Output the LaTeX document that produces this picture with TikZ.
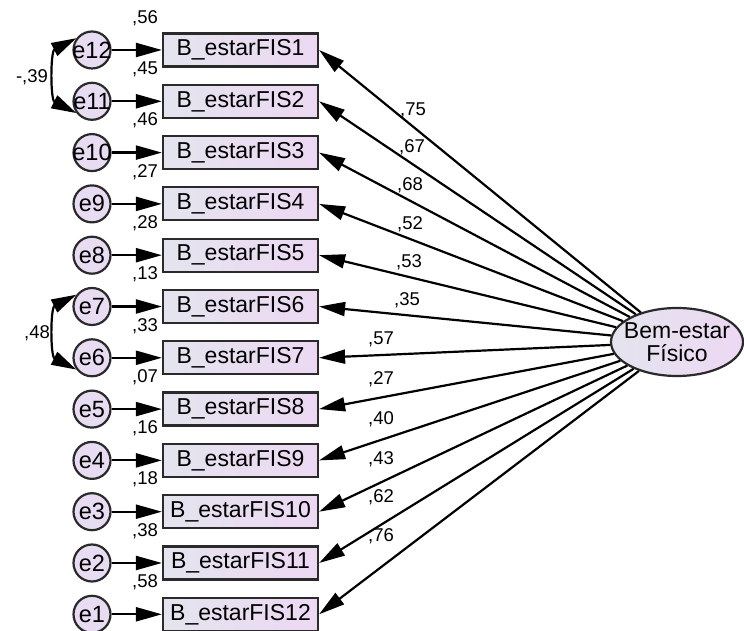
\documentclass[tikz,border=0pt]{standalone}
\usepackage{fontspec}
\setmainfont{Liberation Sans}
\usetikzlibrary{arrows.meta,shapes.geometric}
\definecolor{boxL}{HTML}{E4E4EE}
\definecolor{boxR}{HTML}{EDD8F3}
\definecolor{circF}{HTML}{E8DCF2}
\definecolor{edgec}{HTML}{2A2A2A}
\begin{document}
\begin{tikzpicture}[x=1pt,y=1pt,
 obs/.style={draw=edgec, line width=2.2pt, rectangle, minimum width=155pt, minimum height=33pt, inner sep=0pt, left color=boxL, right color=boxR, font=\fontsize{23}{26}\selectfont},
 err/.style={draw=edgec, line width=2.2pt, circle, minimum size=37pt, inner sep=0pt, fill=circF},
 elab/.style={font=\fontsize{23.5}{26}\selectfont, inner sep=0pt},
 num/.style={font=\fontsize{18.5}{20}\selectfont, inner sep=0pt},
 arr/.style={line width=2.2pt, -{Triangle[length=26pt,width=14pt]}},
 cov/.style={line width=2.2pt, {Triangle[length=25pt,width=14pt]}-{Triangle[length=25pt,width=14pt]}, looseness=1.0},
]
\useasboundingbox (0,0) rectangle (744,631);
% latent
\node[draw=edgec, line width=2.2pt, ellipse, minimum width=132pt, minimum height=68pt, inner sep=0pt,
      left color=boxL, right color=boxR] (F) at (677,289) {};
\node[align=center, inner sep=0pt, font=\fontsize{23}{23}\selectfont] (Ft) at (F) {Bem-estar\\Físico};
% observed + errors
\foreach \i in {1,...,12} {
  \pgfmathsetmacro\yy{581-51.3*(\i-1)}
  \pgfmathtruncatemacro\ee{13-\i}
  \node[obs] (b\i) at (240.5,\yy) {B\_estarFIS\i};
  \node[err] (e\ee) at (92,\yy) {};
  \node[elab] (t\ee) at (e\ee) {e\ee};
  \draw[arr] (e\ee) -- (b\i);
}
% squared multiple correlations
\foreach \i/\v in {1/56,2/45,3/46,4/27,5/28,6/13,7/33,8/07,9/16,10/18,11/38,12/58} {
  \pgfmathsetmacro\yy{581-51.3*(\i-1)+32}
  \node[num] (r\i) at (145,\yy) {,\v};
}
% loadings
\foreach \i/\v/\xx/\yp in {1/75/413/110,2/67/412/147,3/68/410/185,4/52/410/224,5/53/409/262,6/35/407/300,
                           7/57/381/339,8/27/381/379,9/40/381/419,10/43/381/459,11/62/381/497,12/76/381/536} {
  \draw[arr] (F) -- (b\i.east);
  \node[num] (l\i) at (\xx,631-\yp) {,\v};
}
% covariances
\draw[cov] (e12.143) to[out=207,in=153] (e11.217);
\draw[cov] (e7.143) to[out=207,in=153] (e6.217);
\node[num] (c1) at (32,554) {-,39};
\node[num] (c2) at (37,298) {,48};
\end{tikzpicture}
\end{document}
